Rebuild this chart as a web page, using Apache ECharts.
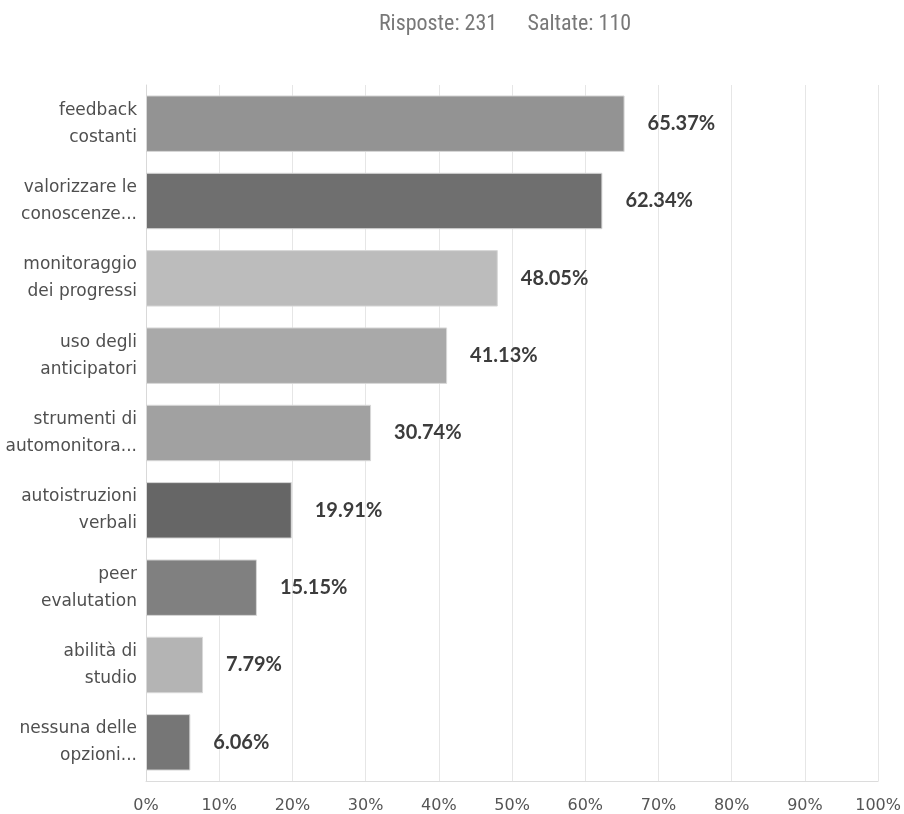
<!DOCTYPE html>
<html>
<head>
<meta charset="utf-8">
<script src="https://cdn.jsdelivr.net/npm/echarts@6/dist/echarts.min.js"></script>
<style>
  html, body { margin: 0; padding: 0; background: #ffffff; overflow: hidden; }
  #chart { width: 904px; height: 814px; }
</style>
</head>
<body>
<div id="chart"></div>
<script>
// Answer options, top to bottom
const categories = [
  'feedback\ncostanti',
  'valorizzare le\nconoscenze...',
  'monitoraggio\ndei progressi',
  'uso degli\nanticipatori',
  'strumenti di\nautomonitora...',
  'autoistruzioni\nverbali',
  'peer\nevalutation',
  'abilità di\nstudio',
  'nessuna delle\nopzioni...'
];
// Share of respondents choosing each option (%)
const values = [65.37, 62.34, 48.05, 41.13, 30.74, 19.91, 15.15, 7.79, 6.06];
// Grey shade per bar
const barColors = ['#939393', '#6f6f6f', '#bcbcbc', '#a9a9a9', '#a1a1a1', '#666666', '#808080', '#b4b4b4', '#767676'];
// Axis ticks
const tickValues = [0, 10, 20, 30, 40, 50, 60, 70, 80, 90, 100];
const headerText = 'Risposte: 231      Saltate: 110';

const chart = echarts.init(document.getElementById('chart'), null, { width: 904, height: 814 });
chart.setOption({
  animation: false,
  backgroundColor: '#ffffff',
  title: {
    text: headerText,
    left: 500,
    textAlign: 'center',
    top: 8,
    textStyle: {
      fontFamily: '"Liberation Sans Narrow", "Roboto Condensed", "DejaVu Sans Condensed", sans-serif',
      fontSize: 22,
      fontWeight: 'normal',
      color: '#787878'
    }
  },
  grid: { left: 146, right: 17, top: 85, bottom: 33, containLabel: false },
  xAxis: {
    type: 'value',
    min: 0,
    max: 100,
    interval: 10,
    axisLine: { show: true, lineStyle: { color: '#dcdcdc', width: 1 } },
    axisTick: { show: false },
    splitLine: { show: true, lineStyle: { color: '#e6e6e6', width: 1 } },
    axisLabel: {
      margin: 17,
      fontFamily: '"DejaVu Sans", sans-serif',
      fontSize: 16,
      color: '#555555',
      formatter: function (v) { return tickValues.indexOf(v) >= 0 ? v + '%' : ''; }
    }
  },
  yAxis: {
    type: 'category',
    inverse: true,
    data: categories,
    axisLine: { show: true, lineStyle: { color: '#d9d9d9', width: 1 } },
    axisTick: { show: false },
    axisLabel: {
      margin: 9,
      fontFamily: '"DejaVu Sans", sans-serif',
      fontSize: 17,
      lineHeight: 27,
      color: '#4f4f4f',
      align: 'right'
    }
  },
  series: [{
    type: 'bar',
    data: values.map(function (v, i) {
      return { value: v, itemStyle: { color: barColors[i] } };
    }),
    barCategoryGap: '27%',
    itemStyle: { borderColor: '#d8d8d8', borderWidth: 1 },
    label: {
      show: true,
      position: 'right',
      distance: 23,
      fontFamily: 'Lato, sans-serif',
      fontWeight: 'bold',
      fontSize: 20,
      color: '#3c3c3c',
      formatter: function (p) { return p.value.toFixed(2) + '%'; }
    }
  }]
});
</script>
</body>
</html>
